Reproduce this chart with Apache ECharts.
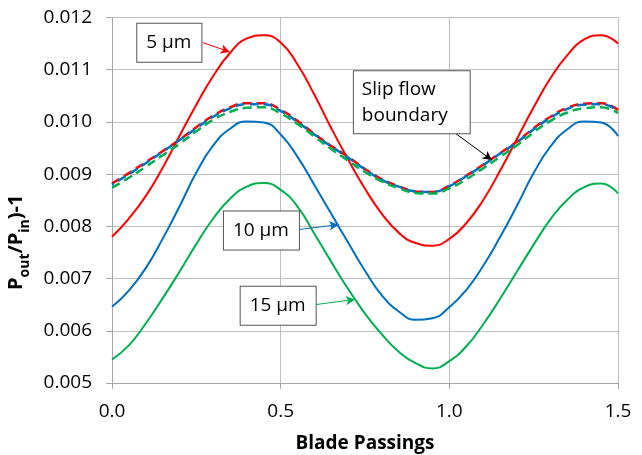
<!DOCTYPE html>
<html>
<head>
<meta charset="utf-8">
<script src="https://cdn.jsdelivr.net/npm/echarts@6/dist/echarts.min.js"></script>
<style>
html,body{margin:0;padding:0;background:#fff;}
#chart{width:642px;height:455px;}
</style>
</head>
<body>
<div id="chart"></div>
<script>
// Blade passings (x)
var xValues = [0.00,0.05,0.10,0.15,0.20,0.25,0.30,0.35,0.40,0.45,0.50,0.55,0.60,0.65,0.70,0.75,0.80,0.85,0.90,0.95,1.00,1.05,1.10,1.15,1.20,1.25,1.30,1.35,1.40,1.45,1.50];
// Solid curves
var red5 = [0.00780,0.00815,0.00858,0.00912,0.00973,0.01033,0.01088,0.01132,0.01160,0.01166,0.01152,0.01110,0.01052,0.00988,0.00928,0.00872,0.00824,0.00788,0.00768,0.00763,0.00776,0.00806,0.00850,0.00906,0.00967,0.01028,0.01084,0.01128,0.01158,0.01166,0.01150];
var blue10 = [0.00646,0.00677,0.00720,0.00776,0.00838,0.00903,0.00955,0.00987,0.01001,0.00999,0.00976,0.00933,0.00879,0.00824,0.00769,0.00715,0.00668,0.00637,0.00621,0.00624,0.00645,0.00678,0.00724,0.00779,0.00839,0.00902,0.00953,0.00986,0.01001,0.00999,0.00973];
var green15 = [0.00545,0.00572,0.00614,0.00662,0.00713,0.00766,0.00815,0.00853,0.00876,0.00883,0.00870,0.00838,0.00786,0.00732,0.00680,0.00633,0.00593,0.00560,0.00538,0.00528,0.00542,0.00570,0.00612,0.00661,0.00713,0.00765,0.00814,0.00851,0.00875,0.00882,0.00863];
// Slip flow boundary (dashed)
var red5Slip = [0.00882,0.00902,0.00923,0.00944,0.00966,0.00990,0.01012,0.01028,0.01036,0.01036,0.01023,0.01002,0.00977,0.00954,0.00933,0.00910,0.00890,0.00877,0.00867,0.00866,0.00878,0.00897,0.00918,0.00940,0.00962,0.00988,0.01010,0.01027,0.01035,0.01036,0.01023];
var blue10Slip = [0.00880,0.00900,0.00921,0.00943,0.00965,0.00988,0.01010,0.01026,0.01034,0.01034,0.01021,0.01000,0.00976,0.00953,0.00932,0.00909,0.00889,0.00876,0.00867,0.00866,0.00877,0.00896,0.00917,0.00939,0.00961,0.00986,0.01008,0.01025,0.01033,0.01034,0.01021];
var green15Slip = [0.00874,0.00893,0.00914,0.00936,0.00958,0.00982,0.01004,0.01019,0.01027,0.01028,0.01016,0.00996,0.00972,0.00948,0.00926,0.00904,0.00886,0.00873,0.00864,0.00863,0.00873,0.00890,0.00911,0.00933,0.00955,0.00980,0.01002,0.01018,0.01026,0.01028,0.01017];
// Axis ticks
var xTicks = [0.0, 0.5, 1.0, 1.5];
var yTicks = [0.005,0.006,0.007,0.008,0.009,0.010,0.011,0.012];

var RED = '#ff0000', BLUE = '#0070c0', GREEN = '#00b050';
var FONT = 'Open Sans';

function pairs(ys){ return xValues.map(function(x,i){ return [x, ys[i]]; }); }

function boxLabel(text, align, padding){
  return {
    show: true, position: 'inside', formatter: text,
    fontFamily: FONT, fontSize: 19, color: '#000', lineHeight: 26,
    align: align || 'center', verticalAlign: 'middle',
    backgroundColor: '#fff', borderColor: '#555', borderWidth: 1,
    padding: padding || [6, 10, 6, 9]
  };
}
function note(coord, text, from, to, color, align, padding){
  return {
    markPoint: {
      silent: true, symbol: 'rect', symbolSize: 1,
      itemStyle: {color: 'rgba(0,0,0,0)'},
      label: boxLabel(text, align, padding),
      data: [{coord: coord}]
    },
    markLine: {
      silent: true, symbol: ['none', 'arrow'], symbolSize: [7, 9],
      label: {show: false},
      lineStyle: {color: color, width: 1, type: 'solid'},
      emphasis: {disabled: true},
      data: [[{coord: from}, {coord: to}]]
    }
  };
}

function line(name, ys, color, dashed, extra, z){
  var s = {
    name: name, type: 'line', data: pairs(ys), smooth: 0.5,
    showSymbol: false, symbol: 'none', z: z,
    lineStyle: {color: color, width: dashed ? 2.5 : 2, type: dashed ? [9, 5] : 'solid', dashOffset: dashed && dashed.offset ? dashed.offset : 0},
    itemStyle: {color: color}, animation: false
  };
  if (extra) { for (var k in extra) s[k] = extra[k]; }
  return s;
}

var chart = echarts.init(document.getElementById('chart'), null, {renderer: 'canvas'});
chart.setOption({
  animation: false,
  backgroundColor: '#fff',
  grid: {left: 112, right: 24, top: 17.5, bottom: 72, containLabel: false, outerBoundsMode: 'none'},
  xAxis: {
    type: 'value', min: 0, max: 1.5, interval: 0.5,
    name: 'Blade Passings', nameLocation: 'middle', nameGap: 51,
    nameTextStyle: {fontFamily: FONT, fontSize: 19, fontWeight: 'bold', color: '#000'},
    axisLine: {show: true, lineStyle: {color: '#a6a6a6', width: 1}},
    axisTick: {show: true, length: 6, lineStyle: {color: '#a6a6a6'}},
    axisLabel: {fontFamily: FONT, fontSize: 19, color: '#000', margin: 19,
      formatter: function(v){ return xTicks.indexOf(v) >= 0 ? v.toFixed(1) : ''; }},
    splitLine: {show: true, lineStyle: {color: '#bfbfbf', width: 1}}
  },
  yAxis: {
    type: 'value', min: 0.005, max: 0.012, interval: 0.001,
    name: '{m|P}{s|out}{m|/P}{s|in}{m|)-1}', nameLocation: 'middle', nameGap: 62, nameRotate: 90,
    nameTextStyle: {
      padding: [0, 84, 0, 0],
      rich: {
        m: {fontFamily: FONT, fontSize: 20, fontWeight: 'bold', color: '#000', lineHeight: 30, verticalAlign: 'top', padding: [4,0,0,0]},
        s: {fontFamily: FONT, fontSize: 14, fontWeight: 'bold', color: '#000', lineHeight: 30, verticalAlign: 'bottom', padding: [0,0,1,0]}
      }
    },
    axisLine: {show: true, lineStyle: {color: '#a6a6a6', width: 1}},
    axisTick: {show: true, length: 6, lineStyle: {color: '#a6a6a6'}},
    axisLabel: {fontFamily: FONT, fontSize: 19, color: '#000', margin: 20,
      formatter: function(v){
        for (var i = 0; i < yTicks.length; i++) if (Math.abs(yTicks[i]-v) < 1e-9) return yTicks[i].toFixed(3);
        return '';
      }},
    splitLine: {show: true, lineStyle: {color: '#bfbfbf', width: 1}}
  },
  series: [
    line('5 µm', red5, RED, false, note([0.170, 0.011516], '5 µm', [0.269, 0.01152], [0.349, 0.01134], RED), 3),
    line('10 µm', blue10, BLUE, false, note([0.443, 0.007922], '10 µm', [0.552, 0.007937], [0.671, 0.008033], BLUE), 3),
    line('15 µm', green15, GREEN, false, note([0.4926, 0.00648], '15 µm', [0.6015, 0.0065], [0.720, 0.0066], GREEN), 3),
    line('5 µm slip', red5Slip, RED, true, null, 4),
    line('10 µm slip', blue10Slip, BLUE, {offset: 7}, null, 5),
    line('15 µm slip', green15Slip, GREEN, true, note([0.717, 0.010379], 'Slip flow\nboundary', [1.017, 0.009786], [1.126, 0.00927], '#000', 'left', [5, 22, 5, 8]), 6)
  ]
});
</script>
</body>
</html>
